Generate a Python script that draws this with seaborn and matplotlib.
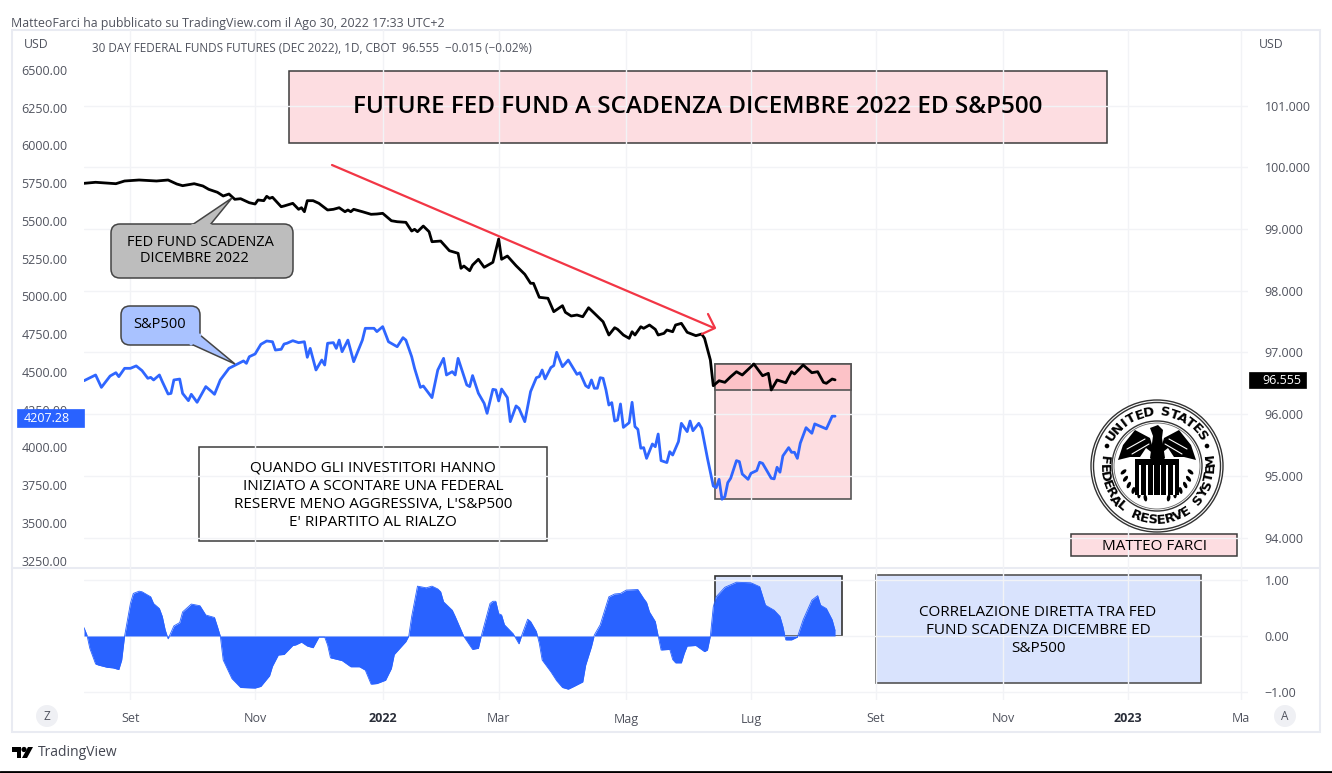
import numpy as np
import pandas as pd
import matplotlib
matplotlib.use("Agg")
import matplotlib.pyplot as plt
from matplotlib.patches import Rectangle, Circle, Ellipse, Polygon, FancyBboxPatch
import seaborn as sns

# Sessions are trading-day indexes, the chart's x axis is bar based
fed_sessions = [0, 4, 11, 14, 19, 25, 29, 32, 34, 38, 41, 43, 46, 48, 50, 52, 54, 57, 59, 60, 62, 63, 64, 65, 68, 69,
                72, 74, 75, 76, 77, 79, 81, 84, 86, 88, 90, 91, 92, 93, 96, 99, 101, 103, 106, 108, 111, 113, 114, 115,
                117, 119, 120, 123, 126, 129, 130, 131, 133, 134, 136, 138, 141, 143, 144, 146, 149, 152, 154, 155,
                157, 160, 162, 165, 166, 168, 170, 172, 174, 176, 179, 181, 183, 184, 186, 188, 189, 190, 192, 193,
                195, 197, 198, 200, 201, 203, 204, 206, 208, 211, 213, 214, 216, 217, 219, 221, 223, 225, 227, 231,
                234, 236, 237, 239, 242, 244, 245, 248, 251, 253, 255, 256, 258, 259]
fed_values = [99.74, 99.757, 99.734, 99.778, 99.794, 99.778, 99.794, 99.729, 99.702, 99.734, 99.697, 99.643, 99.595,
              99.535, 99.567, 99.481, 99.491, 99.426, 99.405, 99.47, 99.459, 99.53, 99.497, 99.514, 99.361, 99.373,
              99.416, 99.319, 99.345, 99.28, 99.459, 99.459, 99.416, 99.308, 99.319, 99.345, 99.28, 99.308, 99.28,
              99.319, 99.28, 99.238, 99.243, 99.254, 99.134, 99.118, 99.108, 98.967, 98.995, 98.956, 99.048, 98.956,
              98.794, 98.805, 98.648, 98.606, 98.363, 98.4, 98.324, 98.416, 98.509, 98.379, 98.46, 98.838, 98.509,
              98.562, 98.405, 98.266, 98.12, 98.12, 97.893, 97.877, 97.66, 97.757, 97.65, 97.59, 97.606, 97.578,
              97.724, 97.634, 97.497, 97.282, 97.4, 97.374, 97.282, 97.228, 97.335, 97.282, 97.416, 97.39, 97.444,
              97.374, 97.282, 97.309, 97.363, 97.335, 97.444, 97.471, 97.326, 97.271, 97.298, 97.228, 96.877, 96.46,
              96.541, 96.515, 96.606, 96.687, 96.634, 96.812, 96.622, 96.661, 96.391, 96.553, 96.509, 96.687, 96.65,
              96.796, 96.671, 96.687, 96.515, 96.499, 96.569, 96.555]

sp_sessions = [0, 4, 6, 9, 11, 12, 14, 16, 18, 20, 22, 23, 24, 26, 27, 29, 30, 31, 33, 34, 36, 37, 39, 42, 44, 45, 47,
               50, 53, 55, 56, 57, 59, 61, 63, 65, 66, 68, 69, 70, 72, 74, 76, 77, 78, 80, 82, 83, 84, 86, 87, 88, 89,
               91, 93, 96, 97, 100, 101, 103, 105, 108, 110, 111, 113, 114, 116, 117, 120, 122, 124, 125, 127, 128,
               129, 132, 133, 134, 136, 138, 139, 141, 142, 143, 144, 146, 147, 149, 150, 152, 154, 156, 157, 158,
               159, 161, 162, 163, 165, 167, 170, 171, 173, 174, 175, 176, 177, 178, 179, 180, 181, 182, 183, 184,
               185, 186, 188, 189, 190, 191, 192, 193, 194, 196, 197, 198, 199, 201, 202, 203, 205, 206, 208, 209,
               210, 212, 213, 215, 217, 218, 219, 220, 221, 222, 223, 225, 226, 227, 229, 230, 232, 233, 234, 237,
               238, 239, 240, 241, 243, 244, 245, 246, 247, 249, 251, 252, 256, 258, 259]
sp_values = [4442, 4480, 4398, 4473, 4495, 4469, 4524, 4524, 4540, 4509, 4458, 4464, 4447, 4480, 4436, 4354, 4358, 4447,
             4453, 4358, 4310, 4352, 4299, 4403, 4370, 4352, 4447, 4524, 4553, 4573, 4557, 4601, 4619, 4683, 4705,
             4700, 4645, 4650, 4685, 4690, 4707, 4694, 4700, 4597, 4656, 4513, 4579, 4546, 4690, 4694, 4656, 4711,
             4634, 4711, 4568, 4711, 4789, 4789, 4767, 4800, 4700, 4667, 4727, 4711, 4601, 4524, 4398, 4407, 4330,
             4513, 4590, 4480, 4502, 4480, 4590, 4414, 4403, 4476, 4359, 4292, 4226, 4385, 4381, 4308, 4387, 4330,
             4171, 4275, 4259, 4171, 4370, 4462, 4469, 4513, 4454, 4529, 4542, 4630, 4535, 4579, 4484, 4495, 4409,
             4396, 4447, 4392, 4392, 4462, 4458, 4381, 4281, 4297, 4175, 4182, 4288, 4133, 4164, 4299, 4138, 4120,
             3995, 3999, 3928, 4023, 4005, 4089, 3913, 3900, 3972, 3950, 4039, 4160, 4105, 4175, 4111, 4160, 4127,
             3928, 3745, 3734, 3789, 3657, 3674, 3767, 3796, 3913, 3906, 3824, 3789, 3829, 3847, 3902, 3895, 3796,
             3792, 3869, 3836, 3944, 3999, 3968, 3968, 3928, 4028, 4131, 4094, 4156, 4123, 4207, 4207]

corr_sessions = [0, 1, 2, 4, 5, 8, 10, 12, 13, 14, 16, 17, 19, 20, 23, 24, 26, 27, 28, 29, 31, 33, 34, 37, 40, 42, 45,
                 46, 47, 48, 49, 51, 54, 59, 61, 64, 65, 67, 69, 72, 73, 75, 77, 79, 81, 83, 84, 85, 89, 92, 95, 97,
                 99, 101, 104, 106, 107, 111, 112, 113, 115, 116, 118, 120, 122, 123, 124, 127, 128, 131, 134, 136,
                 137, 140, 141, 142, 143, 144, 145, 148, 150, 151, 153, 154, 156, 157, 158, 161, 163, 165, 167, 169,
                 172, 173, 175, 176, 178, 181, 183, 185, 187, 191, 193, 194, 195, 197, 198, 199, 202, 203, 204, 206,
                 207, 208, 211, 214, 215, 216, 217, 218, 221, 225, 230, 233, 235, 238, 240, 241, 242, 244, 246, 248,
                 251, 253, 254, 256, 258, 259]
corr_values = [.15, .02, -.22, -.5, -.52, -.56, -.57, -.6, -.43, 0, .58, .76, .80, .79, .70, .58, .49, .35, .11, -.05,
               .18, .24, .43, .57, .54, .375, .33, .17, 0, -.43, -.54, -.76, -.92, -.93, -.90, -.71, -.54, -.34, -.33,
               -.17, -.16, -.11, -.18, -.21, -.02, -.02, -.16, -.39, -.44, -.55, -.55, -.61, -.86, -.85, -.79, -.58,
               -.33, -.10, 0, .35, .89, .88, .86, .89, .84, .79, .61, .46, .35, -.01, -.24, -.22, 0, .58, .62, .62,
               .40, .375, .20, .04, -.14, .02, .30, .26, .08, -.13, -.43, -.64, -.80, -.92, -.95, -.90, -.82, -.52,
               -.19, .02, .20, .70, .75, .76, .82, .83, .67, .60, .43, .26, 0, -.25, -.24, -.42, -.48, -.48, -.31,
               -.18, -.17, -.28, -.25, 0, .52, .70, .87, .96, .95, .88, .55, .46, .35, .17, -.07, -.07, -.02, .29,
               .64, .72, .55, .49, .29, .10]

fed_ticks = [94, 95, 96, 97, 98, 99, 100, 101]
sp_ticks = [3250, 3500, 3750, 4000, 4250, 4500, 4750, 5000, 5250, 5500, 5750, 6000, 6250, 6500]
corr_ticks = [-1, 0, 1]
month_ticks = [16, 59, 103, 143, 187, 230, 273, 317, 360, 399]
month_labels = ["Set", "Nov", "2022", "Mar", "Mag", "Lug", "Set", "Nov", "2023", "Ma"]

fed = pd.DataFrame({"session": fed_sessions, "price": fed_values})
sp = pd.DataFrame({"session": sp_sessions, "price": sp_values})
corr = pd.DataFrame({"session": corr_sessions, "value": corr_values})

sns.set_theme(style="white")
plt.rcParams["font.family"] = ["Open Sans", "DejaVu Sans"]

W, H = 1332, 773
TXT = "#50535e"
GRID = "#f2f3f6"
BLUE = "#2f66ff"
FILL = "#2962ff"
PINK = "#fddde1"
LILAC = "#d9e3fd"
EDGE = "#3c3c3c"

fig = plt.figure(figsize=(W / 100, H / 100), dpi=100, facecolor="white")


def pane(left, top, right, bottom):
    return fig.add_axes([left / W, 1 - bottom / H, (right - left) / W, (bottom - top) / H])


# price pane, fed fund on the right scale and S&P on the left one
ax = pane(84, 30, 1248, 568)
ax_sp = ax.twinx()
ax_corr = pane(84, 568, 1248, 700)

sns.lineplot(data=fed, x="session", y="price", ax=ax, color="black", linewidth=2, zorder=6)
sns.lineplot(data=sp, x="session", y="price", ax=ax_sp, color=BLUE, linewidth=2, zorder=6)
sns.lineplot(data=corr, x="session", y="value", ax=ax_corr, color=FILL, linewidth=0.6, zorder=6)
ax_corr.fill_between(corr["session"], corr["value"], 0, color=FILL, lw=0, zorder=5)

ax.set_xlim(0, 401.4)
ax_corr.set_xlim(0, 401.4)
ax.set_ylim(93.506, 102.225)
ax_sp.set_ylim(3202, 6764)
ax_corr.set_ylim(-1.143, 1.214)

ax.set_yticks(fed_ticks, [f"{v:.3f}" for v in fed_ticks])
ax_sp.set_yticks(sp_ticks, [f"{v:.2f}" for v in sp_ticks])
ax_corr.set_yticks(corr_ticks, ["\u22121.00", "0.00", "1.00"])
ax.set_xticks(month_ticks, [])
ax_corr.set_xticks(month_ticks, month_labels)

ax.yaxis.tick_right()
ax_sp.yaxis.tick_left()
ax_corr.yaxis.tick_right()
for a in (ax, ax_sp, ax_corr):
    a.set_xlabel("")
    a.set_ylabel("")
    a.patch.set_visible(False)
    for s in a.spines.values():
        s.set_visible(False)
ax.set_zorder(2)
ax_sp.set_zorder(3)

ax.grid(True, color=GRID, lw=1)
ax_corr.grid(True, color=GRID, lw=1)
ax.set_axisbelow(True)
ax_corr.set_axisbelow(True)
ax.tick_params(axis="both", length=0, labelsize=9, labelcolor=TXT)
ax.tick_params(axis="y", pad=12)
ax_sp.tick_params(axis="y", length=0, labelsize=9, labelcolor=TXT, pad=12)
ax_corr.tick_params(axis="y", length=0, labelsize=9, labelcolor=TXT, pad=12)
ax_corr.tick_params(axis="x", length=0, labelsize=9, labelcolor=TXT, pad=9)
for lab in ax_corr.get_xticklabels():
    if lab.get_text() in ("2022", "2023"):
        lab.set_fontweight("bold")
        lab.set_color("#2a2e39")

# everything the author drew by hand goes on an overlay in pixel coordinates
under = fig.add_axes([0, 0, 1, 1], zorder=1)
over = fig.add_axes([0, 0, 1, 1], zorder=10)
for o in (under, over):
    o.set_xlim(0, W)
    o.set_ylim(H, 0)
    o.axis("off")
ax_corr.set_zorder(4)


def box(o, x0, y0, x1, y1, fc, ec=EDGE, lw=1.1):
    o.add_patch(Rectangle((x0, y0), x1 - x0, y1 - y0, fc=fc, ec=ec, lw=lw))


def label(x, y, s, size=9, color=TXT, ha="left", **kw):
    over.text(x, y, s, fontsize=size, color=color, ha=ha, va="center", **kw)


# frame around the chart
box(under, 12, 30, 1320, 732, "none", "#e9ebf2", 1.5)
under.plot([12, 1320], [568, 568], color="#e9ebf2", lw=1.5)
over.plot([0, W], [772, 772], color="black", lw=2)

label(11, 23, "MatteoFarci ha pubblicato su TradingView.com il Ago 30, 2022 17:33 UTC+2", 8.9)
label(24, 45, "USD", 8.8)
label(1259, 45, "USD", 8.8)
label(92, 48, "30 DAY FEDERAL FUNDS FUTURES (DEC 2022), 1D, CBOT  96.555  \u22120.015 (\u22120.02%)", 8.5)

# last value tags
box(over, 1249, 372, 1306, 388, "black", "black", 0.5)
label(1301, 380, "96.555", 9, "white", ha="right")
box(over, 17, 409, 84, 427, "#2962ff", "#2962ff", 0.5)
label(24, 418, "4207.28", 9, "white")

# title and comment boxes
box(under, 289, 71, 1107, 143, PINK)
label(698, 107, "FUTURE FED FUND A SCADENZA DICEMBRE 2022 ED S&P500", 17.5, "black", ha="center", fontweight="semibold")
box(under, 199, 447, 547, 541, "white")
for y, line in zip([468, 486, 504, 522], ["QUANDO GLI INVESTITORI HANNO", "INIZIATO A SCONTARE UNA FEDERAL",
                                          "RESERVE MENO AGGRESSIVA, L'S&P500", "E' RIPARTITO AL RIALZO"]):
    label(373, y, line, 11, "black", ha="center")

# highlighted zones behind the lines
box(under, 715, 364, 851, 499, "#fddde1", "#555555", 1.2)
box(under, 715, 364, 851, 390, "#fcc2c7", "#555555", 1.2)
box(under, 715, 576, 842, 636, LILAC, "#333333", 1.2)
box(under, 876, 575, 1201, 683, LILAC, "#555555", 1.2)
for y, line in zip([612, 630, 648], ["CORRELAZIONE DIRETTA TRA FED", "FUND SCADENZA DICEMBRE ED", "S&P500"]):
    label(1038, y, line, 11, "black", ha="center")
box(under, 1071, 534, 1237, 556, PINK)
label(1154, 546, "MATTEO FARCI", 11, "black", ha="center")

# callouts
for (x0, y0, x1, y1), tail, fc in [((111, 224, 293, 278), [(192, 225), (232, 198), (210, 225)], "#bdbdbd"),
                                   ((121, 306, 200, 345), [(200, 335), (235, 364), (191, 344)], "#a9c2ff")]:
    over.add_patch(FancyBboxPatch((x0, y0), x1 - x0, y1 - y0, boxstyle="round,pad=0,rounding_size=9",
                                  fc=fc, ec="#444444", lw=1.1))
    over.add_patch(Polygon(tail, closed=False, fc=fc, ec="#444444", lw=1.1))
    over.plot([tail[0][0], tail[2][0]], [tail[0][1], tail[2][1]], color=fc, lw=2.2)
label(200, 243, "FED FUND SCADENZA", 10.5, "black", ha="center")
label(194, 258, "DICEMBRE 2022", 10.5, "black", ha="center")
label(160, 324, "S&P500", 10.5, "black", ha="center")

# trend arrow
over.plot([332, 714], [165, 328], color="#f23645", lw=1.6)
over.plot([708, 715, 702], [314, 328, 334], color="#f23645", lw=1.6)

# seal
cx, cy = 1157, 466
over.add_patch(Circle((cx, cy), 66, fc="white", ec="#333333", lw=1))
over.add_patch(Circle((cx, cy), 63.5, fc="none", ec="#333333", lw=1))
over.add_patch(Circle((cx, cy), 45, fc="none", ec="#333333", lw=1))
over.add_patch(Circle((cx, cy), 43, fc="none", ec="#666666", lw=0.6))
for i, ch in enumerate("UNITED STATES"):
    a = np.deg2rad((i - 6) * 9.3)
    over.text(cx + 54 * np.sin(a), cy - 54 * np.cos(a), ch, fontsize=9.5, fontweight="bold", color="black",
              rotation=-np.rad2deg(a), rotation_mode="anchor", ha="center", va="center", family="DejaVu Sans")
for i, ch in enumerate("FEDERAL RESERVE SYSTEM"):
    a = np.deg2rad((i - 10.5) * 9.2)
    over.text(cx + 54 * np.sin(a), cy + 54 * np.cos(a), ch, fontsize=9.5, fontweight="bold", color="black",
              rotation=np.rad2deg(a), rotation_mode="anchor", ha="center", va="center", family="DejaVu Sans")
for sign in (-1, 1):
    over.add_patch(Circle((cx + sign * 50, cy - 20), 2.3, fc="black", ec="none"))
    wing = [(-39, -6), (-34, -21), (-22, -36), (-7, -28), (-2, -11), (-11, -18), (-17, -9), (-27, -9)]
    over.add_patch(Polygon([(cx + sign * x, cy + y) for x, y in wing], fc="black", ec="none"))
    over.plot([cx + sign * -30, cx + sign * -12], [cy - 17, cy - 27], color="white", lw=0.8)
    over.plot([cx + sign * -25, cx + sign * -8], [cy - 12, cy - 22], color="white", lw=0.8)
    for t in range(100, 165, 12):
        r = np.deg2rad(t)
        over.add_patch(Ellipse((cx + sign * 34 * np.sin(r), cy - 34 * np.cos(r)), 7, 3.5,
                               angle=sign * (t - 60), fc="black", ec="none"))
over.add_patch(Polygon([(cx - 7, cy - 38), (cx + 1, cy - 41), (cx + 6, cy - 36), (cx + 5, cy - 28), (cx + 8, cy - 8),
                        (cx, cy + 1), (cx - 7, cy - 8), (cx - 4, cy - 30)], fc="black", ec="none"))
over.add_patch(Rectangle((cx - 22, cy - 7), 44, 36, fc="black", ec="none"))
for dx in np.arange(-17, 18, 6.8):
    over.add_patch(Rectangle((cx + dx - 0.8, cy - 1), 1.6, 30, fc="white", ec="none"))

# zoom buttons
for x, s in [(47, "Z"), (1285, "A")]:
    over.add_patch(Circle((x, 716), 11, fc="#eff0f4", ec="none"))
    label(x, 716, s, 8.5, ha="center")

# TradingView mark
over.add_patch(Polygon([(12, 747), (21, 747), (21, 758), (17, 758), (17, 752), (12, 752)], fc="black", ec="none"))
over.add_patch(Circle((24, 749.5), 2.6, fc="black", ec="none"))
over.add_patch(Polygon([(28, 747), (33, 747), (27, 758), (22, 758)], fc="black", ec="none"))
label(38, 752, "TradingView", 10, "#434651")

fig.savefig("out.png", dpi=100)
